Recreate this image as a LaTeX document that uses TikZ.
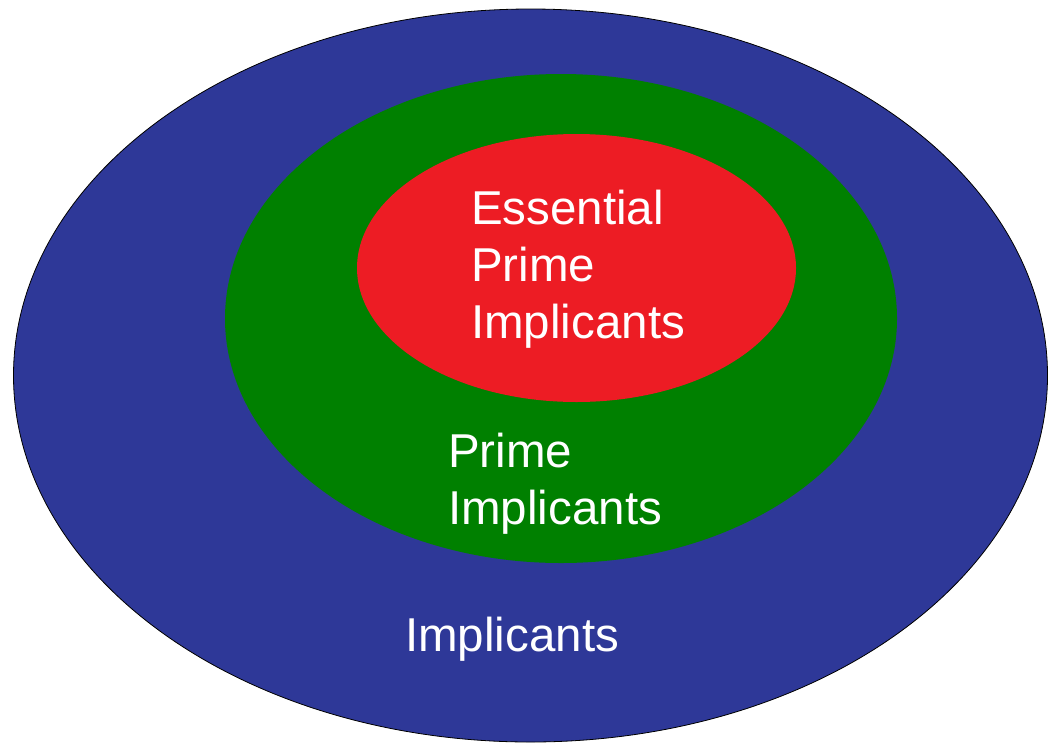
\documentclass[tikz,border=0pt]{standalone}
\usepackage{fontspec}
\setmainfont{Liberation Sans}
\usetikzlibrary{shapes.geometric}
\definecolor{setblue}{RGB}{46,56,152}
\definecolor{setgreen}{RGB}{0,128,0}
\definecolor{setred}{RGB}{237,28,36}
\tikzset{
  lbl/.style={text=white, inner sep=0pt, anchor=base west, font=\fontsize{47.5}{57}\selectfont},
}
\begin{document}
\begin{tikzpicture}[x=1pt,y=-1pt]
\useasboundingbox (0,0) rectangle (1048,742);
\clip (0,0) rectangle (1048,742);
\fill[white] (0,0) rectangle (1048,742);
\node[ellipse, draw=black, line width=0.8pt, fill=setblue, minimum width=1034pt, minimum height=733pt, inner sep=0pt] (impl) at (530.5,375.5) {};
\node[ellipse, fill=setgreen, minimum width=672pt, minimum height=489pt, inner sep=0pt] (prime) at (561,318.5) {};
\node[ellipse, fill=setred, minimum width=439pt, minimum height=268pt, inner sep=0pt] (ess) at (576.5,268) {};
\node[lbl] (e1) at (471,224) {Essential};
\node[lbl] (e2) at (471,281) {Prime};
\node[lbl] (e3) at (471,338) {Implicants};
\node[lbl] (p1) at (448,467) {Prime};
\node[lbl] (p2) at (448,524) {Implicants};
\node[lbl] (i1) at (405,651) {Implicants};
\end{tikzpicture}
\end{document}
